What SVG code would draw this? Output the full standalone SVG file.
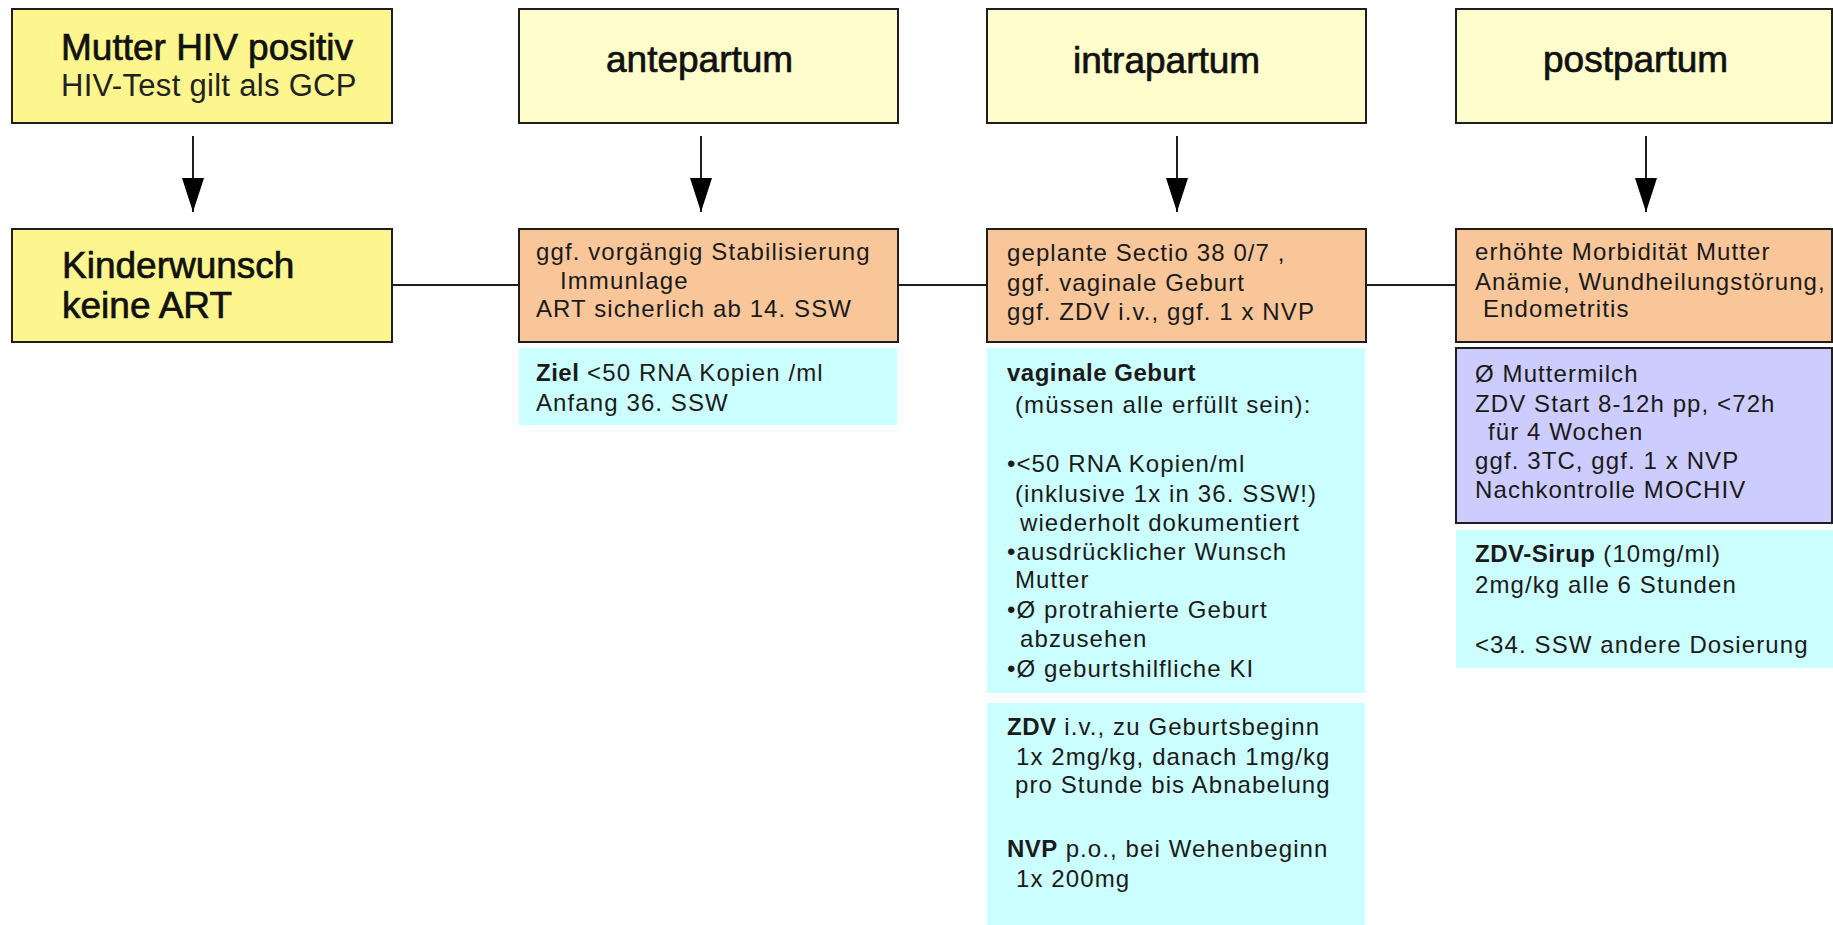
<svg xmlns="http://www.w3.org/2000/svg" width="1833" height="925" viewBox="0 0 1833 925">
<defs>
<style>
.box{stroke:#1e1e1e;stroke-width:2}
.y1{fill:#FDF68E}
.y2{fill:#FEFDCB}
.or{fill:#F9C69A}
.cy{fill:#CCFFFF}
.pu{fill:#CCCCFF}
.big{font-family:"Liberation Sans",Arial,sans-serif;font-size:37px;fill:#111;stroke:#111;stroke-width:0.7px}
.mid{font-family:"Liberation Sans",Arial,sans-serif;font-size:31px;fill:#222;letter-spacing:0.3px}
.sm{font-family:"Liberation Sans",Arial,sans-serif;font-size:24px;fill:#1a1a1a;letter-spacing:1.1px}
.b{font-weight:bold;letter-spacing:0.5px}
.conn{stroke:#1e1e1e;stroke-width:2;fill:none}
</style>
<marker id="ah" viewBox="0 0 34 22" refX="34" refY="11" markerWidth="34" markerHeight="22" markerUnits="userSpaceOnUse" orient="auto">
<path d="M0,0 L34,11 L0,22 z" fill="#000"/>
</marker>
</defs>
<rect width="1833" height="925" fill="#fff"/>

<g id="connectors">
<line class="conn" x1="193" y1="136" x2="193" y2="212" marker-end="url(#ah)"/>
<line class="conn" x1="701" y1="136" x2="701" y2="212" marker-end="url(#ah)"/>
<line class="conn" x1="1177" y1="136" x2="1177" y2="212" marker-end="url(#ah)"/>
<line class="conn" x1="1646" y1="136" x2="1646" y2="212" marker-end="url(#ah)"/>
<line class="conn" x1="392" y1="285" x2="519" y2="285"/>
<line class="conn" x1="898" y1="285" x2="987" y2="285"/>
<line class="conn" x1="1366" y1="285" x2="1456" y2="285"/>
</g>

<g id="mutter">
<rect class="box y1" x="12" y="9" width="380" height="114"/>
<text class="big" x="61" y="60">Mutter HIV positiv</text>
<text class="mid" x="61" y="96">HIV-Test gilt als GCP</text>
</g>

<g id="kinderwunsch">
<rect class="box y1" x="12" y="229" width="380" height="113"/>
<text class="big" x="62" y="278">Kinderwunsch</text>
<text class="big" x="62" y="318">keine ART</text>
</g>

<g id="antepartum">
<rect class="box y2" x="519" y="9" width="379" height="114"/>
<text class="big" x="606" y="72">antepartum</text>
</g>

<g id="ante-detail">
<rect class="box or" x="519" y="229" width="379" height="113"/>
<text class="sm" x="536" y="260">ggf. vorgängig Stabilisierung</text>
<text class="sm" x="560" y="289">Immunlage</text>
<text class="sm" x="536" y="317">ART sicherlich ab 14. SSW</text>
</g>

<g id="ante-ziel">
<rect class="cy" x="519" y="348" width="378" height="77"/>
<text class="sm" x="536" y="381"><tspan class="b">Ziel</tspan> &lt;50 RNA Kopien /ml</text>
<text class="sm" x="536" y="411">Anfang 36. SSW</text>
</g>

<g id="intrapartum">
<rect class="box y2" x="987" y="9" width="379" height="114"/>
<text class="big" x="1073" y="73">intrapartum</text>
</g>

<g id="intra-detail">
<rect class="box or" x="987" y="229" width="379" height="113"/>
<text class="sm" x="1007" y="261">geplante Sectio 38 0/7 ,</text>
<text class="sm" x="1007" y="291">ggf. vaginale Geburt</text>
<text class="sm" x="1007" y="320">ggf. ZDV i.v., ggf. 1 x NVP</text>
</g>

<g id="intra-vaginal">
<rect class="cy" x="987" y="348" width="378" height="345"/>
<text class="sm b" x="1007" y="381">vaginale Geburt</text>
<text class="sm" x="1015" y="413">(müssen alle erfüllt sein):</text>
<text class="sm" x="1007" y="472">•&lt;50 RNA Kopien/ml</text>
<text class="sm" x="1015" y="502">(inklusive 1x in 36. SSW!)</text>
<text class="sm" x="1020" y="531">wiederholt dokumentiert</text>
<text class="sm" x="1007" y="560">•ausdrücklicher Wunsch</text>
<text class="sm" x="1015" y="588">Mutter</text>
<text class="sm" x="1007" y="618">•Ø protrahierte Geburt</text>
<text class="sm" x="1020" y="647">abzusehen</text>
<text class="sm" x="1007" y="677">•Ø geburtshilfliche KI</text>
</g>

<g id="intra-medikation">
<rect class="cy" x="987" y="703" width="378" height="222"/>
<text class="sm" x="1007" y="735"><tspan class="b">ZDV</tspan> i.v., zu Geburtsbeginn</text>
<text class="sm" x="1016" y="765">1x 2mg/kg, danach 1mg/kg</text>
<text class="sm" x="1015" y="793">pro Stunde bis Abnabelung</text>
<text class="sm" x="1007" y="857"><tspan class="b">NVP</tspan> p.o., bei Wehenbeginn</text>
<text class="sm" x="1016" y="887">1x 200mg</text>
</g>

<g id="postpartum">
<rect class="box y2" x="1456" y="9" width="376" height="114"/>
<text class="big" x="1543" y="72">postpartum</text>
</g>

<g id="post-detail">
<rect class="box or" x="1456" y="229" width="376" height="113"/>
<text class="sm" x="1475" y="260">erhöhte Morbidität Mutter</text>
<text class="sm" x="1475" y="290">Anämie, Wundheilungstörung,</text>
<text class="sm" x="1483" y="317">Endometritis</text>
</g>

<g id="post-kind">
<rect class="box pu" x="1456" y="348" width="376" height="175"/>
<text class="sm" x="1475" y="382">Ø Muttermilch</text>
<text class="sm" x="1475" y="412">ZDV Start 8-12h pp, &lt;72h</text>
<text class="sm" x="1488" y="440">für 4 Wochen</text>
<text class="sm" x="1475" y="469">ggf. 3TC, ggf. 1 x NVP</text>
<text class="sm" x="1475" y="498">Nachkontrolle MOCHIV</text>
</g>

<g id="post-sirup">
<rect class="cy" x="1456" y="530" width="377" height="138"/>
<text class="sm" x="1475" y="562"><tspan class="b">ZDV-Sirup</tspan> (10mg/ml)</text>
<text class="sm" x="1475" y="593">2mg/kg alle 6 Stunden</text>
<text class="sm" x="1475" y="653">&lt;34. SSW andere Dosierung</text>
</g>
</svg>
